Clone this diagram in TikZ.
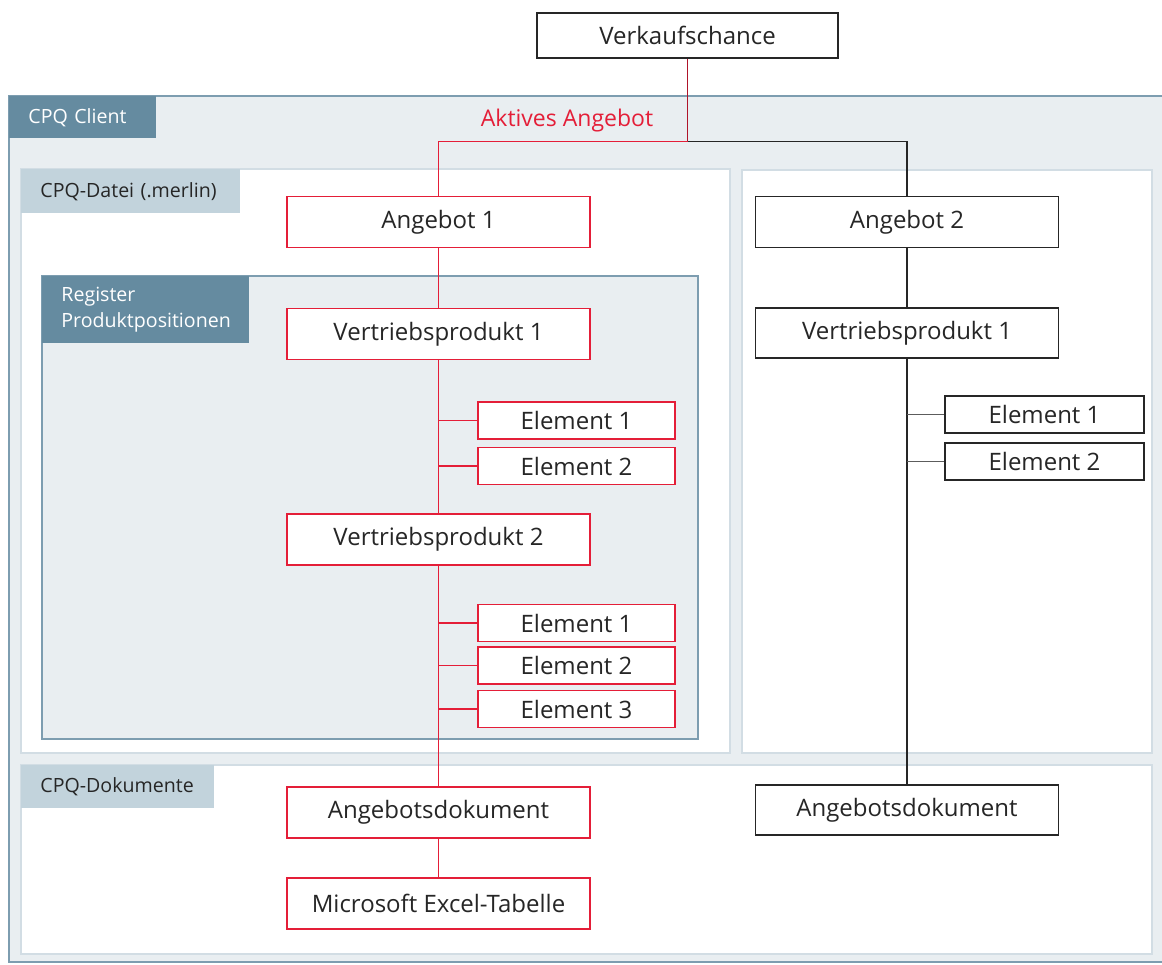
\documentclass[tikz,border=0pt]{standalone}
\usepackage{fontspec}
\setmainfont{Open Sans}
\usepackage{xcolor}
\usepackage{tikz}
\usetikzlibrary{positioning, calc}

\definecolor{activered}{RGB}{228,30,56}
\definecolor{linkred}{RGB}{175,20,42}
\definecolor{tagdark}{RGB}{101,139,160}
\definecolor{taglight}{RGB}{194,211,220}
\definecolor{areafill}{RGB}{233,238,241}
\definecolor{arealine}{RGB}{210,221,228}
\definecolor{framedark}{RGB}{125,157,176}
\definecolor{inkgrey}{RGB}{38,38,38}

\begin{document}
\begin{tikzpicture}[
    x=0.5pt, y=-0.5pt,
    every node/.style={font=\fontsize{12}{14}\selectfont, text=inkgrey},
    box/.style={rectangle, draw=inkgrey, fill=white, line width=0.9pt, minimum width=151.5pt, minimum height=25.5pt, inner sep=0pt},
    activebox/.style={box, draw=activered},
    elem/.style={box, minimum width=98.5pt, minimum height=18.5pt},
    activeelem/.style={elem, draw=activered},
    tag/.style={rectangle, anchor=north west, align=left, inner xsep=9.5pt, inner ysep=0pt, font=\fontsize{9.8}{13}\selectfont},
    darktag/.style={tag, fill=tagdark, text=white},
    lighttag/.style={tag, fill=taglight, text=inkgrey},
    area/.style={fill=white, draw=arealine, line width=0.9pt},
    link/.style={line width=0.9pt, draw=inkgrey},
    activelink/.style={line width=0.9pt, draw=activered}
]
\useasboundingbox (0,0) rectangle (1162,964);
\fill[white] (0,0) rectangle (1162,964);

% Areas
\fill[areafill] (9,96) rectangle (1162,962);
\draw[framedark, line width=0.9pt] (1162,96) -- (9,96) -- (9,962) -- (1162,962);
\node[darktag, text width=54.5pt, minimum height=21pt] (tagClient) at (9,96) {CPQ Client};

\filldraw[area] (21,169) rectangle (730,753);
\node[lighttag, text width=90.5pt, minimum height=22pt] (tagDatei) at (21,169) {CPQ-Datei (.merlin)};
\filldraw[area] (742,170) rectangle (1152,753);

\filldraw[fill=areafill, draw=framedark, line width=0.9pt] (42,276) rectangle (698,739);
\node[darktag, text width=84.5pt, minimum height=33.5pt] (tagRegister) at (42,276) {Register\\Produktpositionen};

\filldraw[area] (21,765) rectangle (1152,954);
\node[lighttag, text width=77.5pt, minimum height=21.5pt] (tagDokumente) at (21,765) {CPQ-Dokumente};

% Nodes
\node[box, minimum width=150.5pt, minimum height=22.5pt] (chance) at (687.5,35.5) {Verkaufschance};

\node[activebox] (offerA) at (438.5,222) {Angebot 1};
\node[activebox] (prodA1) at (438.5,334) {Vertriebsprodukt 1};
\node[activeelem] (elemA11) at (576.5,420.5) {Element 1};
\node[activeelem] (elemA12) at (576.5,466) {Element 2};
\node[activebox] (prodA2) at (438.5,539.5) {Vertriebsprodukt 2};
\node[activeelem] (elemA21) at (576.5,623) {Element 1};
\node[activeelem] (elemA22) at (576.5,665.5) {Element 2};
\node[activeelem] (elemA23) at (576.5,709) {Element 3};
\node[activebox] (docA) at (438.5,812.5) {Angebotsdokument};
\node[activebox] (excelA) at (438.5,903.5) {Microsoft Excel-Tabelle};

\node[box] (offerB) at (907,222) {Angebot 2};
\node[box, minimum height=25pt] (prodB1) at (907,333) {Vertriebsprodukt 1};
\node[elem, minimum width=99.5pt] (elemB11) at (1044.5,414.5) {Element 1};
\node[elem, minimum width=99.5pt] (elemB12) at (1044.5,461.5) {Element 2};
\node[box, minimum height=25pt] (docB) at (907,810) {Angebotsdokument};

% Fork below the sales opportunity
\path (chance.south) ++(0,82.5) coordinate (fork);
\node[text=activered, font=\fontsize{11.5}{14}\selectfont] (activeLabel) at (567,121) {Aktives Angebot};
\draw[line width=0.9pt, linkred] (chance) -- (fork);
\draw[activelink] (fork) -| (offerA);
\draw[link] (fork) -| (offerB);

% Active offer
\draw[activelink] (offerA) -- (prodA1);
\draw[activelink] (prodA1) -- (prodA2);
\draw[activelink] (prodA2) -- (docA);
\draw[activelink] (docA) -- (excelA);
\foreach \e in {elemA11, elemA12}
    \draw[activelink] (\e.west) -- (\e.west -| prodA1.south);
\foreach \e in {elemA21, elemA22, elemA23}
    \draw[activelink] (\e.west) -- (\e.west -| prodA2.south);

% Second offer
\draw[link] (offerB) -- (prodB1);
\draw[link] (prodB1) -- (docB);
\foreach \e in {elemB11, elemB12}
    \draw[link, draw=inkgrey!75] (\e.west) -- (\e.west -| prodB1.south);

\end{tikzpicture}
\end{document}
